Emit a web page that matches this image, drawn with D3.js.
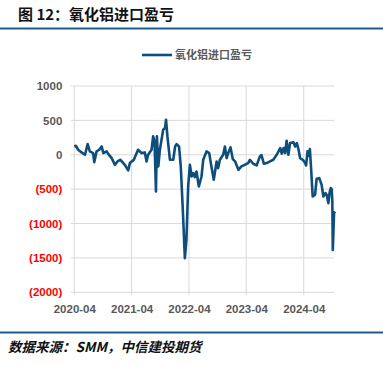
<!DOCTYPE html>
<html>
<head>
<meta charset="utf-8">
<script src="https://cdn.jsdelivr.net/npm/d3@7"></script>
<style>
  body { margin: 0; background: #fff; }
  svg { display: block; }
</style>
</head>
<body>
<div id="chart"></div>
<script>
// --- data ---
const dates = [
  '2020-04-01','2020-04-11','2020-04-26','2020-05-17','2020-06-08','2020-06-25','2020-07-09','2020-07-30',
  '2020-08-06','2020-08-21','2020-09-07','2020-09-22','2020-10-03','2020-10-24','2020-11-04','2020-11-25',
  '2020-12-16','2021-01-01','2021-01-18','2021-02-04','2021-02-19','2021-03-10','2021-03-21','2021-04-15',
  '2021-05-12','2021-06-03','2021-06-24','2021-07-05','2021-07-15','2021-08-06','2021-08-16','2021-08-25',
  '2021-09-03','2021-09-09','2021-09-18','2021-09-28','2021-10-12','2021-10-19','2021-10-31','2021-11-06',
  '2021-11-15','2021-12-01','2021-12-22','2022-01-03','2022-01-12','2022-01-28','2022-02-08','2022-02-21',
  '2022-03-06','2022-03-16','2022-03-27','2022-04-07','2022-04-18','2022-04-28','2022-05-08','2022-05-19',
  '2022-06-03','2022-06-20','2022-07-01','2022-07-22','2022-08-08','2022-08-22','2022-09-06','2022-09-24',
  '2022-10-04','2022-10-15','2022-11-05','2022-11-16','2022-11-27','2022-12-07','2022-12-22','2023-01-05',
  '2023-01-20','2023-02-10','2023-03-01','2023-03-22','2023-04-13','2023-04-24','2023-05-15','2023-06-06',
  '2023-06-27','2023-07-07','2023-07-22','2023-08-09','2023-08-30','2023-09-20','2023-10-12','2023-11-03',
  '2023-11-13','2023-11-24','2023-12-04','2023-12-14','2023-12-25','2024-01-05','2024-01-27','2024-02-06',
  '2024-02-17','2024-02-28','2024-03-09','2024-03-26','2024-04-10','2024-04-16','2024-04-25','2024-05-03',
  '2024-05-10','2024-05-17','2024-05-28','2024-06-12','2024-06-22','2024-07-09','2024-07-24','2024-08-04',
  '2024-08-17','2024-08-25','2024-09-05','2024-09-12','2024-09-20','2024-09-26','2024-09-30','2024-10-03',
  '2024-10-11','2024-10-17'
]
const values = [
  121, 131, 73, 34, 0, 155, 49, 24,
  -107, 49, 73, 121, 24, 49, 10, -49,
  -146, -97, -73, -112, -155, -228, -121, -73,
  73, 24, 34, -97, 0, 73, 267, 194,
  -534, 267, -170, 73, 267, 364, 388, 510,
  267, -73, -73, 121, 155, 121, -170, -801,
  -1505, -1238, -461, -146, -316, -267, -325, -243,
  -461, -316, -73, 49, 24, -170, -364, -97,
  -194, -73, 0, 121, -49, 24, 107, -63,
  -97, -218, -170, -146, -121, -73, -131, -155,
  -24, -5, -131, -121, -97, -73, 0, 97,
  15, 97, 24, 204, 0, 170, 180, 121,
  170, 73, -49, -73, -121, -155, 49, -15,
  83, -170, -607, -582, -350, -340, -437, -607,
  -558, -582, -704, -558, -485, -500, -680, -1383,
  -849, -825
]
const yTicks = [1000, 500, 0, -500, -1000, -1500, -2000]
const xTickLabels = ['2020-04', '2021-04', '2022-04', '2023-04', '2024-04']
const seriesName = '氧化铝进口盈亏'
const title = '图 12：氧化铝进口盈亏'
const source = '数据来源：SMM，中信建投期货'

const width = 383
const height = 365
const margin = {left: 74.3, right: 48, top: 86, bottom: 73}
const blue = '#0d4e7c'

const parse = d3.timeParse('%Y-%m-%d')
const data = dates.map((d, i) => ({date: parse(d), value: values[i]}))

const svg = d3.select('#chart').append('svg')
  .attr('width', width)
  .attr('height', height)

// --- header ---
svg.append('text')
  .attr('x', 18).attr('y', 20)
  .attr('font-family', '"Noto Sans CJK SC", sans-serif')
  .attr('font-weight', 'bold')
  .attr('font-size', 15)
  .attr('fill', '#111')
  .text(title)

svg.append('rect')
  .attr('x', 0).attr('y', 27.5)
  .attr('width', width).attr('height', 2)
  .attr('fill', '#1f5b8c')

// --- legend ---
svg.append('line')
  .attr('x1', 142).attr('x2', 172)
  .attr('y1', 55).attr('y2', 55)
  .attr('stroke', blue).attr('stroke-width', 2.6)
svg.append('text')
  .attr('x', 175).attr('y', 59)
  .attr('font-family', '"Noto Sans CJK SC", sans-serif')
  .attr('font-weight', 'bold')
  .attr('font-size', 11)
  .attr('fill', '#595959')
  .text(seriesName)

// --- scales ---
const x = d3.scaleTime()
  .domain([parse('2020-04-01'), parse('2024-10-17')])
  .range([margin.left, 335])

const y = d3.scaleLinear()
  .domain([-2000, 1000])
  .range([292.3, 86])

const tickDates = xTickLabels.map(d => d3.timeParse('%Y-%m')(d))

// --- grid ---
const grid = svg.append('g')
grid.selectAll('.hgrid')
  .data(yTicks)
  .join('line')
    .attr('class', 'hgrid')
    .attr('x1', 71).attr('x2', 334)
    .attr('y1', d => y(d)).attr('y2', d => y(d))
    .attr('stroke', '#d9d9d9').attr('stroke-width', 1)

grid.selectAll('.vgrid')
  .data(tickDates)
  .join('line')
    .attr('class', 'vgrid')
    .attr('x1', d => x(d)).attr('x2', d => x(d))
    .attr('y1', y(1000)).attr('y2', y(-2000) + 3)
    .attr('stroke', '#d9d9d9').attr('stroke-width', 1)

// --- axes ---
const yAxis = svg.append('g')
  .attr('transform', `translate(${margin.left},0)`)
  .call(d3.axisLeft(y).tickValues(yTicks).tickSize(0).tickPadding(12)
    .tickFormat(d => d < 0 ? '(' + Math.abs(d) + ')' : d))
yAxis.select('.domain').remove()
yAxis.selectAll('text')
  .attr('font-family', '"Liberation Sans", Arial, sans-serif')
  .attr('font-weight', 'bold')
  .attr('font-size', 11.5)
  .attr('fill', d => d < 0 ? '#ff0000' : '#595959')

const xAxis = svg.append('g')
  .attr('transform', `translate(0,${y(-2000)})`)
  .call(d3.axisBottom(x).tickValues(tickDates).tickSize(0).tickPadding(13)
    .tickFormat(d3.timeFormat('%Y-%m')))
xAxis.select('.domain').remove()
xAxis.selectAll('text')
  .attr('font-family', '"Liberation Sans", Arial, sans-serif')
  .attr('font-weight', 'bold')
  .attr('font-size', 11.5)
  .attr('fill', '#595959')

// --- series ---
const line = d3.line()
  .x(d => x(d.date))
  .y(d => y(d.value))

svg.append('path')
  .datum(data)
  .attr('fill', 'none')
  .attr('stroke', blue)
  .attr('stroke-width', 2.6)
  .attr('stroke-linejoin', 'round')
  .attr('d', line)

// --- footer ---
svg.append('rect')
  .attr('x', 0).attr('y', 331.5)
  .attr('width', width).attr('height', 2)
  .attr('fill', '#1f5b8c')

svg.append('text')
  .attr('x', 8).attr('y', 352)
  .attr('font-family', '"Noto Sans CJK SC", sans-serif')
  .attr('font-weight', 'bold')
  .attr('font-style', 'italic')
  .attr('font-size', 13.5)
  .attr('fill', '#111')
  .text(source)
</script>
</body>
</html>
